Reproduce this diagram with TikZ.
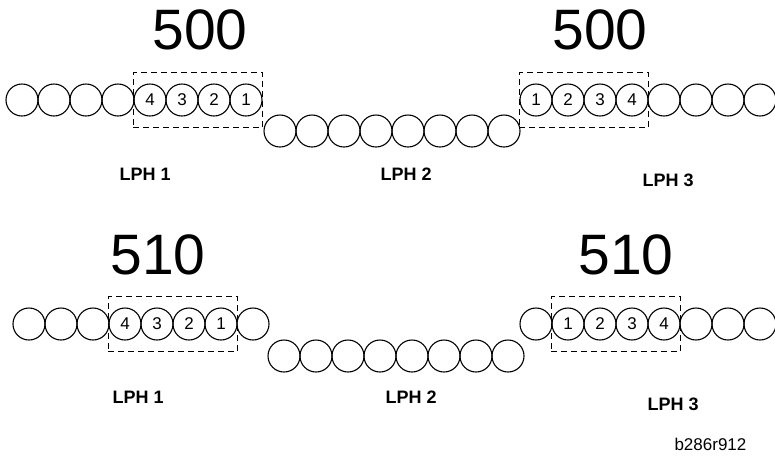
\documentclass[tikz,border=0pt]{standalone}
\usepackage{fontspec}
\setmainfont{Liberation Sans}
\usetikzlibrary{fit}
\usetikzlibrary{positioning}
\tikzset{
  lphdot/.style={
    draw, circle, minimum size=32pt, inner sep=0pt, line width=1.1pt,
    font=\fontsize{17}{17}\selectfont},
  lphbox/.style={
    draw, dash pattern=on 6pt off 4pt, line width=1pt,
    inner xsep=0pt, inner ysep=11pt},
  lphtag/.style={anchor=base west, font=\fontsize{18}{18}\selectfont\bfseries},
  lphvalue/.style={anchor=base west, font=\fontsize{57}{57}\selectfont},
  lphcode/.style={anchor=base west, font=\fontsize{17}{17}\selectfont},
}

\begin{document}
\begin{tikzpicture}[x=1pt, y=-1pt]
\useasboundingbox (0,0) rectangle (775,456);

% Upper setting: 500.
\node[lphvalue] (vtopl) at (149, 49) {500};
\node[lphvalue] (vtopr) at (549, 49) {500};

% LPH 1, outer end numbered 4..1.
\foreach \i in {0,...,3} {
  \node[lphdot] (ta\i) at ({22 + 32*\i}, 100) {};
}
\foreach \i/\n in {4/4, 5/3, 6/2, 7/1} {
  \node[lphdot] (ta\i) at ({22 + 32*\i}, 100) {\n};
}
\node[lphbox, fit=(ta4) (ta7)] (tabox) {};

% LPH 2, lower row.
\foreach \i in {0,...,7} {
  \node[lphdot] (tb\i) at ({280 + 32*\i}, 131) {};
}

% LPH 3, inner end numbered 1..4.
\foreach \i/\n in {0/1, 1/2, 2/3, 3/4} {
  \node[lphdot] (tc\i) at ({536 + 32*\i}, 100) {\n};
}
\foreach \i in {4,...,7} {
  \node[lphdot] (tc\i) at ({536 + 32*\i}, 100) {};
}
\node[lphbox, fit=(tc0) (tc3)] (tcbox) {};

\node[lphtag] (ttag1) at (116, 180) {LPH 1};
\node[lphtag] (ttag2) at (377, 180) {LPH 2};
\node[lphtag] (ttag3) at (639, 186) {LPH 3};

% Lower setting: 510.
\node[lphvalue] (vbotl) at (107, 274) {510};
\node[lphvalue] (vbotr) at (575, 274) {510};

% LPH 1, shifted by one dot.
\foreach \i in {0,1,2,7} {
  \node[lphdot] (ba\i) at ({29 + 32*\i}, 324) {};
}
\foreach \i/\n in {3/4, 4/3, 5/2, 6/1} {
  \node[lphdot] (ba\i) at ({29 + 32*\i}, 324) {\n};
}
\node[lphbox, fit=(ba3) (ba6)] (babox) {};

% LPH 2, lower row.
\foreach \i in {0,...,7} {
  \node[lphdot] (bb\i) at ({284 + 32*\i}, 356) {};
}

% LPH 3, shifted by one dot.
\foreach \i in {0,5,6,7} {
  \node[lphdot] (bc\i) at ({536 + 32*\i}, 324) {};
}
\foreach \i/\n in {1/1, 2/2, 3/3, 4/4} {
  \node[lphdot] (bc\i) at ({536 + 32*\i}, 324) {\n};
}
\node[lphbox, fit=(bc1) (bc4)] (bcbox) {};

\node[lphtag] (btag1) at (109, 403) {LPH 1};
\node[lphtag] (btag2) at (382, 403) {LPH 2};
\node[lphtag] (btag3) at (644, 410) {LPH 3};

\node[lphcode] (fig) at (671, 450) {b286r912};

\end{tikzpicture}
\end{document}
